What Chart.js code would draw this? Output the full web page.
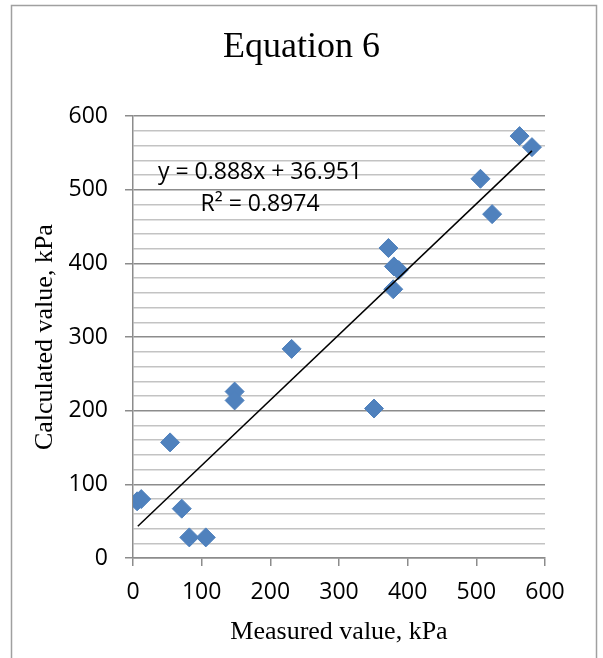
<!DOCTYPE html>
<html lang="en">
<head>
    <meta charset="UTF-8">
    <title>Equation 6</title>
    <script src="https://cdn.jsdelivr.net/npm/chart.js"></script>
    <style>
        body { margin: 0; background: #fff; }
        #wrap { width: 603px; height: 658px; }
    </style>
</head>
<body>
    <div id="wrap">
        <canvas id="grafico" width="603" height="658"></canvas>
    </div>

<script>
    // measured vs calculated pressures, kPa
    var medido = [6, 12, 54, 71, 82, 106, 148, 148, 231, 351, 372, 380, 387, 379, 506, 523, 563, 581]
    var calculado = [77, 80, 157, 67, 28, 28, 226, 214, 284, 203, 421, 396, 391, 365, 515, 467, 573, 558]

    // linear trend line, from the equation shown on the chart
    var inclinacao = 0.888
    var intercepto = 36.951
    var textoEquacao = 'y = 0.888x + 36.951'
    var textoR2 = 'R² = 0.8974'
    var tendenciaX = [7, 581]
    var tendencia = tendenciaX.map(function (x) { return { x: x, y: inclinacao * x + intercepto } })

    var pontos = medido.map(function (m, i) { return { x: m, y: calculado[i] } })

    var fonteTicks = { family: 'Open Sans', size: 23 }
    var cinzaForte = '#8c8c8c'
    var cinzaFraco = '#c3c3c3'

    // outer frame + equation label
    const extras = {
        id: 'extras',
        beforeDraw(chart) {
            const ctx = chart.ctx
            ctx.save()
            ctx.fillStyle = '#fff'
            ctx.fillRect(0, 0, chart.width, chart.height)
            ctx.strokeStyle = '#a0a0a0'
            ctx.lineWidth = 1.5
            ctx.strokeRect(11.5, 5.5, 585, 700)
            ctx.restore()
        },
        afterDatasetsDraw(chart) {
            const ctx = chart.ctx
            const x = chart.scales.x.getPixelForValue(185)
            ctx.save()
            ctx.font = '23px "Open Sans"'
            ctx.fillStyle = '#000'
            ctx.textAlign = 'center'
            ctx.textBaseline = 'middle'
            ctx.fillText(textoEquacao, x, chart.scales.y.getPixelForValue(523))
            ctx.fillText(textoR2, x, chart.scales.y.getPixelForValue(480))
            ctx.restore()
        }
    }

    const myChart = new Chart(document.getElementById('grafico'), {
        type: 'scatter',
        data: {
            datasets: [{
                label: 'Linear',
                type: 'line',
                data: tendencia,
                borderColor: '#000',
                borderWidth: 1.5,
                pointRadius: 0,
                fill: false,
                order: 0
            },
            {
                label: 'Calculated',
                data: pontos,
                pointStyle: 'rectRot',
                pointRadius: 9.5,
                backgroundColor: '#4f81bd',
                borderColor: '#4f81bd',
                borderWidth: 1,
                order: 1
            }]
        },
        options: {
            responsive: false,
            animation: false,
            layout: { padding: 0 },
            plugins: {
                legend: { display: false },
                tooltip: { enabled: false },
                title: {
                    display: true,
                    text: 'Equation 6',
                    color: '#000',
                    font: { family: 'Liberation Serif', size: 36, weight: 'normal' },
                    padding: { top: 26, bottom: 47 }
                }
            },
            scales: {
                x: {
                    type: 'linear',
                    min: 0,
                    max: 600,
                    afterFit(scale) { scale.height = 100 },
                    ticks: { stepSize: 100, color: '#000', font: fonteTicks, padding: 13, maxRotation: 0 },
                    grid: { drawOnChartArea: false, drawTicks: true, tickLength: 8, tickColor: cinzaForte, lineWidth: 1.5 },
                    border: { color: cinzaForte, width: 1.5 },
                    title: {
                        display: true,
                        text: 'Measured value, kPa',
                        color: '#000',
                        font: { family: 'Liberation Serif', size: 26 },
                        padding: { top: 0, bottom: 10 }
                    }
                },
                y: {
                    min: 0,
                    max: 600,
                    afterFit(scale) { scale.width = 133 },
                    ticks: {
                        stepSize: 20,
                        autoSkip: false,
                        color: '#000',
                        font: fonteTicks,
                        padding: 17,
                        callback: function (v) { return v % 100 === 0 ? v : '' }
                    },
                    grid: {
                        tickLength: 8,
                        color: function (c) { return c.tick.value % 100 === 0 ? cinzaForte : cinzaFraco },
                        tickColor: function (c) { return c.tick.value % 100 === 0 ? cinzaForte : 'transparent' },
                        lineWidth: 1.5
                    },
                    border: { color: cinzaForte, width: 1.5 },
                    title: {
                        display: true,
                        text: 'Calculated value, kPa',
                        color: '#000',
                        font: { family: 'Liberation Serif', size: 26 },
                        padding: { top: 30, bottom: 0 }
                    }
                },
                // empty right-hand strip so the title stays centred on the whole frame
                direita: {
                    position: 'right',
                    min: 0,
                    max: 600,
                    afterFit(scale) { scale.width = 58 },
                    ticks: { display: false },
                    grid: { display: false },
                    border: { display: false }
                }
            }
        },
        plugins: [extras]
    })
</script>
</body>
</html>
